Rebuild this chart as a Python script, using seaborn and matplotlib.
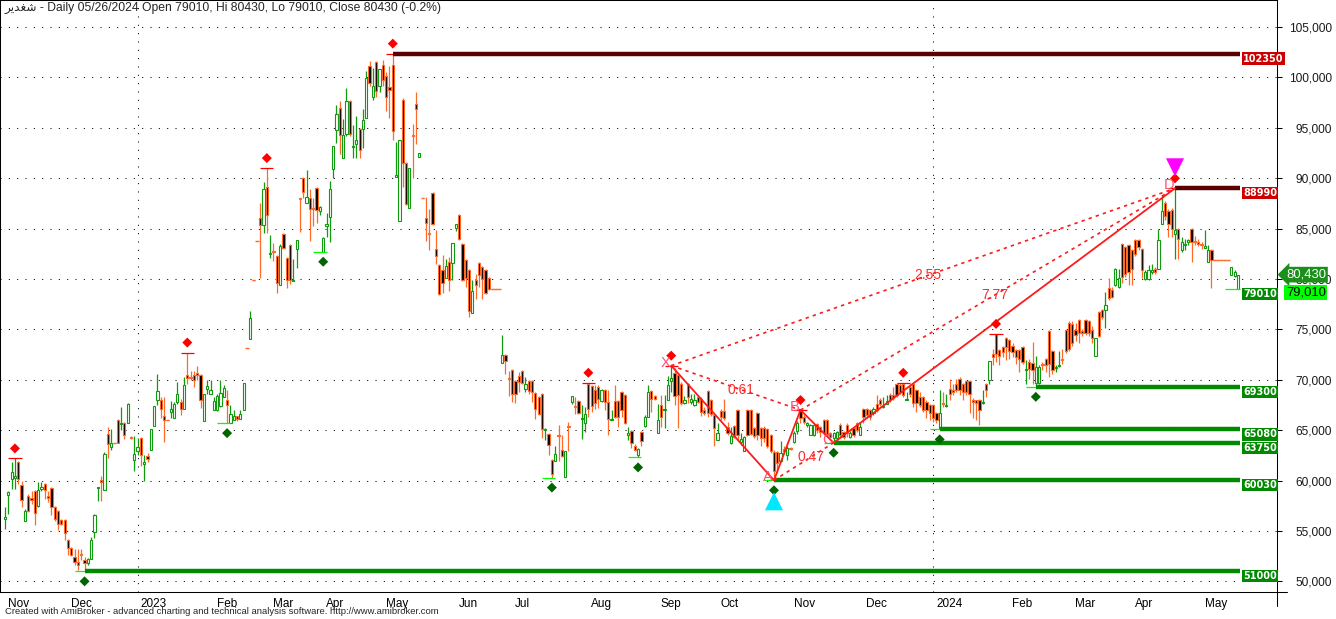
import numpy as np
import pandas as pd
import seaborn as sns
import matplotlib.pyplot as plt
from matplotlib import transforms
from matplotlib.lines import Line2D

# Daily bars, thousands of rials: (open, high, low, close)
nov22 = [(56.2, 57.4, 55.2, 56.4), (58.6, 59.0, 56.7, 58.9), (60.2, 61.8, 59.2, 60.9),
         (60.3, 62.2, 59.2, 60.5), (61.8, 61.9, 59.7, 60.2), (59.6, 60.0, 57.4, 58.1),
         (56.0, 57.2, 56.0, 57.0), (58.5, 58.7, 56.9, 57.0), (58.3, 59.0, 57.7, 58.1),
         (59.0, 59.1, 55.6, 56.8), (57.5, 59.9, 57.4, 59.1), (59.2, 59.9, 59.0, 59.4),
         (59.7, 59.8, 58.2, 59.1), (58.5, 59.0, 57.9, 58.3), (59.3, 59.4, 56.6, 57.4),
         (57.4, 57.5, 56.0, 56.2), (57.0, 57.1, 55.1, 55.7), (56.1, 56.2, 55.6, 55.7),
         (56.1, 56.2, 54.1, 54.8)]
dec22 = [(54.1, 54.2, 52.6, 53.3), (53.3, 53.4, 52.5, 52.6), (52.4, 53.2, 51.6, 51.9),
         (51.9, 53.2, 51.1, 51.6), (52.7, 53.2, 52.1, 52.6), (52.1, 52.4, 51.0, 51.8),
         (51.8, 52.3, 51.6, 52.2), (52.2, 54.4, 52.2, 54.1), (54.9, 56.7, 54.3, 56.6),
         (59.3, 59.4, 58.0, 59.4), (60.1, 60.5, 58.0, 59.9), (59.1, 62.8, 59.1, 62.6),
         (64.6, 65.3, 62.2, 63.6), (63.3, 65.1, 63.0, 63.7), (63.7, 63.7, 63.7, 63.7),
         (66.0, 66.1, 63.7, 63.7), (65.6, 67.3, 65.0, 65.7), (65.7, 65.8, 64.1, 64.5),
         (65.7, 67.7, 65.7, 67.6), (64.3, 64.4, 64.1, 64.2), (62.0, 64.4, 61.0, 62.6)]
jan23 = [(62.9, 64.2, 62.5, 63.3), (64.2, 64.3, 61.4, 62.5), (61.6, 62.5, 60.0, 61.8),
         (62.4, 62.7, 61.8, 62.1), (63.0, 65.1, 63.0, 65.1), (65.4, 67.4, 65.4, 67.4),
         (68.0, 70.6, 67.5, 68.9), (68.0, 68.3, 66.2, 67.1), (66.4, 68.3, 63.8, 66.0),
         (66.0, 66.0, 66.0, 66.0), (66.8, 67.9, 66.2, 67.1), (66.2, 67.8, 66.2, 67.6),
         (67.8, 69.8, 67.6, 68.6), (67.8, 68.1, 66.5, 67.1), (67.1, 70.3, 67.1, 69.5),
         (70.5, 72.7, 69.6, 70.2), (70.3, 70.9, 70.0, 70.2), (70.5, 70.9, 69.3, 70.0),
         (70.7, 71.4, 70.0, 70.5), (70.5, 70.6, 67.2, 68.0), (65.9, 68.6, 65.9, 68.6),
         (69.1, 70.0, 68.6, 69.4), (68.6, 70.0, 68.6, 69.0)]
feb23 = [(67.0, 68.3, 67.0, 67.9), (67.0, 68.6, 66.9, 68.4), (67.4, 70.0, 67.3, 68.7),
         (68.3, 69.5, 68.3, 69.2), (68.0, 69.0, 65.7, 67.5), (65.7, 67.5, 65.7, 66.6),
         (66.0, 67.0, 66.0, 66.4), (66.4, 66.4, 65.9, 66.1), (66.1, 67.0, 66.1, 66.6),
         (67.0, 69.7, 67.0, 69.7), (73.2, 73.2, 73.2, 73.2), (74.0, 76.8, 74.0, 76.1),
         (79.9, 79.9, 79.9, 79.9), (83.8, 83.8, 83.8, 83.8), (86.0, 87.5, 80.1, 85.4),
         (85.4, 89.6, 84.6, 88.9), (89.1, 91.0, 84.6, 86.3)]
mar23 = [(82.5, 84.4, 82.1, 82.6), (82.8, 83.6, 81.8, 82.7), (82.3, 82.4, 78.6, 79.6),
         (79.4, 83.5, 79.4, 83.3), (84.5, 84.6, 83.0, 83.1), (82.1, 82.2, 79.1, 79.9),
         (83.4, 83.5, 79.5, 79.9), (79.8, 82.0, 79.8, 79.9), (83.0, 83.9, 81.1, 83.9),
         (88.0, 88.0, 84.7, 87.9), (90.0, 90.1, 88.0, 88.6), (87.5, 90.8, 87.5, 88.1),
         (88.0, 88.9, 83.8, 86.9), (87.0, 88.0, 85.3, 86.9), (89.0, 89.1, 85.6, 86.8),
         (86.7, 87.2, 86.3, 87.1)]
apr23 = [(82.7, 84.2, 82.7, 84.1), (85.3, 86.5, 84.2, 85.5), (86.1, 89.7, 83.7, 88.9),
         (90.9, 93.2, 90.0, 93.2), (94.8, 97.3, 93.5, 96.4), (97.0, 97.7, 92.4, 94.3),
         (92.0, 95.9, 92.0, 94.3), (94.4, 98.9, 94.2, 97.7), (97.7, 97.8, 94.2, 94.4),
         (93.1, 95.3, 92.0, 93.2), (93.4, 96.2, 92.0, 93.8), (94.9, 95.0, 92.0, 92.8),
         (94.9, 96.9, 93.0, 95.8), (96.0, 100.6, 96.0, 99.9), (101.1, 101.6, 99.1, 99.4),
         (98.0, 100.9, 97.8, 99.1), (101.5, 101.6, 98.0, 98.6), (99.1, 100.8, 98.5, 100.8)]
may23 = [(101.2, 101.7, 99.1, 99.7), (100.1, 100.5, 96.7, 98.0), (99.0, 101.1, 96.0, 98.7),
         (101.2, 102.35, 93.8, 94.7), (90.1, 93.6, 90.1, 90.3), (85.7, 93.8, 85.7, 93.8),
         (97.8, 97.9, 89.1, 91.5), (91.5, 91.6, 87.3, 87.4), (87.0, 91.0, 87.0, 91.0),
         (94.3, 95.4, 90.0, 94.2), (97.4, 98.5, 93.4, 96.9), (92.1, 92.5, 92.1, 92.5),
         (88.0, 88.0, 88.0, 88.0), (86.0, 88.1, 83.8, 85.6), (84.6, 86.9, 82.9, 84.5),
         (88.5, 88.6, 85.4, 85.5), (83.0, 84.9, 81.5, 82.3), (81.4, 81.5, 78.4, 78.5),
         (80.9, 82.4, 78.6, 79.6), (80.1, 82.0, 80.1, 81.3), (81.7, 82.2, 78.8, 79.9),
         (81.6, 83.6, 79.9, 83.6)]
jun23 = [(85.1, 85.5, 84.8, 85.5), (86.3, 86.4, 83.9, 84.0), (83.5, 83.6, 79.8, 79.9),
         (81.9, 82.0, 79.2, 80.1), (80.9, 81.0, 76.2, 76.8), (76.6, 79.9, 76.6, 78.8),
         (79.9, 80.5, 78.0, 79.4), (81.6, 81.7, 79.2, 80.4), (81.2, 81.3, 78.0, 80.0),
         (80.9, 81.0, 78.5, 78.6), (80.1, 80.2, 78.9, 79.0), (79.0, 79.0, 79.0, 79.0),
         (79.0, 79.0, 79.0, 79.0), (79.0, 79.0, 79.0, 79.0), (71.7, 74.4, 71.7, 72.5),
         (72.5, 72.6, 70.6, 71.9), (70.2, 70.9, 68.4, 70.1)]
jul23 = [(71.0, 71.1, 67.8, 68.6), (69.9, 70.0, 67.7, 68.6), (70.4, 70.8, 68.8, 69.8),
         (70.9, 71.0, 69.6, 69.7), (69.1, 70.3, 68.8, 69.6), (69.9, 70.0, 68.6, 68.9),
         (69.9, 70.0, 67.8, 68.8), (68.7, 68.8, 66.1, 67.1), (68.3, 68.4, 66.5, 66.6),
         (68.6, 68.7, 64.2, 65.1), (65.0, 65.2, 64.0, 65.1), (64.6, 64.7, 62.5, 63.5),
         (62.0, 62.1, 60.3, 60.7), (61.9, 63.4, 61.9, 62.6), (64.5, 65.5, 61.9, 64.4),
         (63.0, 64.5, 62.3, 62.4), (60.4, 62.9, 60.4, 62.9), (65.4, 65.8, 62.9, 65.3),
         (67.8, 68.4, 67.6, 68.4), (67.4, 68.3, 66.6, 67.3), (67.9, 68.0, 66.6, 66.7),
         (66.1, 67.5, 64.1, 66.2), (65.7, 67.3, 64.8, 66.6)]
aug23 = [(69.6, 69.7, 66.3, 67.1), (69.4, 69.5, 66.8, 67.4), (69.0, 69.5, 67.1, 67.7),
         (69.3, 69.5, 67.2, 68.1), (67.9, 69.1, 67.8, 69.0), (69.0, 69.1, 67.0, 67.8),
         (67.8, 69.0, 64.5, 66.1), (66.0, 67.0, 66.0, 66.1), (67.9, 69.5, 66.2, 66.3),
         (67.9, 68.0, 65.3, 66.3), (68.8, 68.9, 66.3, 67.0), (68.5, 68.6, 65.6, 65.7),
         (64.5, 65.3, 64.0, 64.7), (64.9, 65.0, 63.2, 63.7), (63.4, 63.6, 62.9, 63.0),
         (62.5, 63.2, 62.3, 63.1), (64.8, 64.9, 63.4, 63.9), (65.4, 66.5, 65.3, 66.3),
         (66.3, 69.5, 66.3, 68.8), (68.9, 69.0, 66.8, 68.1), (68.4, 68.5, 68.0, 68.1)]
sep23 = [(64.7, 67.6, 64.7, 66.0), (67.5, 68.5, 65.3, 66.3), (67.0, 68.5, 65.2, 67.1),
         (68.0, 70.4, 68.0, 69.5), (69.9, 71.4, 68.8, 70.2), (70.7, 71.2, 67.5, 68.4),
         (70.5, 70.6, 65.2, 68.5), (69.6, 69.8, 67.5, 67.7), (67.7, 68.4, 67.6, 68.0),
         (69.6, 69.7, 67.7, 68.3), (67.8, 68.6, 67.6, 68.1), (67.5, 68.6, 67.4, 68.0),
         (68.3, 68.5, 67.7, 67.8), (68.1, 68.3, 66.4, 66.8), (67.0, 67.3, 66.5, 66.7),
         (68.9, 69.0, 66.3, 66.7), (68.0, 68.1, 66.4, 66.6), (66.5, 66.6, 63.4, 65.2)]
oct23 = [(64.0, 65.7, 64.0, 64.7), (66.9, 67.1, 66.0, 66.3), (66.9, 68.1, 66.0, 66.2),
         (65.3, 65.8, 64.5, 64.7), (63.7, 65.3, 63.6, 64.4), (65.4, 65.5, 64.2, 64.3),
         (67.0, 67.1, 63.9, 64.5), (63.8, 64.7, 63.5, 64.1), (62.9, 64.4, 62.9, 64.3),
         (67.0, 67.1, 64.4, 64.5), (67.0, 67.1, 64.5, 64.6), (65.2, 65.3, 64.2, 64.4),
         (66.7, 66.8, 64.0, 64.5), (65.2, 65.3, 63.4, 64.2), (65.2, 65.4, 63.8, 64.2),
         (65.1, 65.2, 63.2, 63.4), (64.5, 64.6, 62.7, 62.9), (62.8, 63.0, 60.03, 61.0),
         (62.8, 62.9, 60.8, 61.7), (61.9, 63.9, 61.8, 62.7), (63.1, 63.4, 62.6, 62.9),
         (62.5, 63.4, 62.0, 63.2)]
nov23 = [(63.2, 63.3, 63.0, 63.1), (63.8, 64.9, 63.7, 64.7), (64.9, 65.9, 64.6, 65.7),
         (66.9, 67.0, 65.7, 66.2), (66.3, 66.5, 65.6, 65.8), (65.5, 65.8, 65.3, 65.7),
         (64.5, 65.6, 64.5, 65.5), (64.5, 65.6, 64.4, 65.5), (65.6, 65.7, 64.7, 65.0),
         (65.3, 65.4, 64.3, 64.8), (66.0, 66.1, 64.5, 64.7), (66.0, 66.1, 64.4, 64.5),
         (64.7, 64.8, 64.2, 64.3), (64.2, 64.8, 63.75, 64.7), (64.2, 64.9, 64.0, 64.8),
         (65.5, 65.7, 64.2, 64.5), (64.8, 64.9, 64.1, 64.3), (65.5, 65.7, 64.3, 64.7),
         (64.3, 64.9, 64.2, 64.7), (65.2, 65.3, 64.3, 64.5), (65.7, 65.8, 64.8, 65.0),
         (64.5, 65.8, 64.5, 65.3)]
dec23 = [(67.1, 67.2, 65.7, 66.3), (67.1, 67.2, 66.2, 66.5), (67.0, 67.1, 66.0, 66.3),
         (66.7, 67.3, 66.5, 67.1), (67.6, 68.5, 66.8, 67.0), (68.0, 68.2, 67.4, 67.6),
         (67.3, 68.3, 67.2, 67.4), (67.6, 68.5, 67.6, 67.9), (68.5, 68.7, 67.8, 68.0),
         (68.5, 69.3, 68.0, 68.2), (69.6, 69.7, 68.3, 68.5), (69.5, 69.7, 68.6, 68.8),
         (69.6, 69.7, 68.3, 68.5), (68.0, 68.8, 68.0, 68.1), (69.3, 69.6, 68.3, 68.6),
         (69.6, 69.7, 67.3, 67.7), (69.0, 69.1, 66.8, 67.7), (68.3, 68.8, 67.3, 67.5),
         (68.3, 68.4, 66.8, 67.0), (67.8, 68.0, 66.2, 67.0), (67.5, 67.6, 66.0, 66.7)]
jan24 = [(67.5, 67.6, 65.8, 66.2), (66.7, 66.8, 65.7, 66.0), (65.1, 69.0, 65.08, 66.7),
         (67.7, 68.8, 67.3, 67.6), (67.4, 68.6, 67.3, 67.5), (69.1, 70.1, 68.0, 68.6),
         (69.0, 69.6, 68.5, 68.8), (69.6, 70.1, 68.8, 69.0), (70.1, 70.3, 68.5, 69.0),
         (69.6, 69.7, 68.0, 68.8), (69.9, 70.0, 68.5, 68.8), (69.9, 70.0, 66.7, 68.6),
         (68.0, 68.2, 66.2, 67.8), (68.0, 68.0, 66.0, 67.7), (68.0, 68.1, 65.5, 67.0),
         (67.7, 69.0, 67.6, 67.8), (69.6, 69.7, 68.3, 69.0), (70.0, 71.9, 69.6, 71.9),
         (72.6, 73.1, 71.5, 72.3), (74.55, 74.55, 71.8, 72.6), (73.0, 73.1, 71.5, 72.4),
         (73.3, 73.4, 72.3, 72.8), (74.1, 74.2, 72.0, 73.3)]
feb24 = [(73.9, 74.0, 72.1, 72.9), (73.4, 73.6, 72.3, 72.8), (73.0, 73.1, 71.6, 72.3),
         (73.0, 73.1, 70.8, 72.1), (73.3, 73.4, 71.6, 71.8), (71.0, 72.0, 69.6, 71.1),
         (71.8, 72.1, 70.1, 71.1), (71.7, 73.7, 69.6, 71.0), (69.7, 72.4, 69.3, 71.3),
         (69.7, 71.5, 69.6, 71.3), (71.6, 71.8, 71.0, 71.5), (72.1, 72.2, 70.8, 71.5),
         (74.8, 74.9, 70.3, 71.6), (72.9, 73.0, 70.6, 71.0), (71.2, 71.5, 70.8, 71.3),
         (71.4, 72.9, 71.3, 71.5), (72.1, 73.1, 71.6, 72.0), (74.9, 75.0, 72.7, 72.9),
         (75.6, 75.8, 72.9, 73.1)]
mar24 = [(75.5, 75.8, 73.4, 73.6), (74.9, 75.6, 73.8, 74.4), (75.9, 76.0, 73.6, 74.6),
         (74.8, 75.0, 74.3, 74.6), (75.9, 76.0, 74.4, 74.6), (75.8, 75.9, 74.3, 74.6),
         (74.9, 75.3, 73.6, 74.1), (72.4, 74.1, 72.4, 74.1), (76.7, 76.8, 74.2, 74.3),
         (76.9, 77.0, 76.0, 76.2), (76.9, 78.7, 75.1, 77.4), (79.1, 80.1, 77.9, 78.1),
         (78.9, 79.2, 78.1, 78.2), (79.4, 81.1, 79.3, 81.0), (79.2, 81.0, 79.1, 80.1),
         (83.5, 83.6, 79.6, 80.2), (83.2, 83.3, 80.2, 80.5), (83.4, 83.5, 79.4, 80.7)]
apr24 = [(82.9, 83.0, 79.4, 81.0), (83.9, 84.0, 82.3, 82.5), (83.9, 84.0, 82.9, 83.2),
         (83.0, 83.1, 80.1, 80.9), (80.0, 80.9, 79.9, 80.7), (80.0, 81.4, 79.9, 80.9),
         (80.7, 81.5, 80.5, 80.9), (81.0, 81.2, 80.5, 80.7), (81.0, 85.0, 81.0, 83.9),
         (85.5, 88.3, 85.5, 86.7), (87.5, 87.7, 85.8, 86.2), (86.7, 86.9, 84.2, 85.5),
         (86.8, 87.0, 84.2, 85.0), (84.5, 88.99, 82.0, 84.9), (85.0, 85.1, 82.0, 84.0),
         (82.9, 84.2, 82.7, 83.7), (83.4, 84.0, 82.9, 83.5), (83.7, 84.0, 83.4, 83.9),
         (85.0, 85.1, 81.7, 83.7), (83.8, 84.3, 83.4, 83.7), (83.7, 84.0, 83.3, 83.5)]
may24 = [(83.5, 83.7, 83.0, 83.4), (83.1, 84.9, 83.1, 83.3), (81.7, 83.4, 81.7, 82.9),
         (82.9, 83.0, 79.1, 81.9), (81.9, 81.9, 81.9, 81.9), (81.9, 81.9, 81.9, 81.9),
         (81.9, 81.9, 81.9, 81.9), (81.9, 81.9, 81.9, 81.9), (81.9, 81.9, 81.9, 81.9),
         (80.4, 81.2, 80.4, 81.2), (80.3, 80.9, 80.2, 80.7), (79.01, 80.43, 79.01, 80.43)]

month_keys = ['2022-11', '2022-12', '2023-01', '2023-02', '2023-03', '2023-04', '2023-05',
              '2023-06', '2023-07', '2023-08', '2023-09', '2023-10', '2023-11', '2023-12',
              '2024-01', '2024-02', '2024-03', '2024-04', '2024-05']
month_labels = ['Nov', 'Dec', '2023', 'Feb', 'Mar', 'Apr', 'May', 'Jun', 'Jul', 'Aug', 'Sep',
                'Oct', 'Nov', 'Dec', '2024', 'Feb', 'Mar', 'Apr', 'May']
month_bars = [nov22, dec22, jan23, feb23, mar23, apr23, may23, jun23, jul23, aug23, sep23,
              oct23, nov23, dec23, jan24, feb24, mar24, apr24, may24]

# swing points: (month, bar number inside the month)
pivot_highs = [('2022-11', 3), ('2023-01', 15), ('2023-02', 16), ('2023-05', 3), ('2023-08', 0),
               ('2023-09', 4), ('2023-11', 3), ('2023-12', 12), ('2024-01', 19), ('2024-04', 13)]
pivot_lows = [('2022-12', 5), ('2023-02', 4), ('2023-04', 0), ('2023-07', 12), ('2023-08', 15),
              ('2023-10', 17), ('2023-11', 13), ('2024-01', 2), ('2024-02', 8)]
xabcd = [('2023-09', 4), ('2023-10', 17), ('2023-11', 3), ('2023-11', 13), ('2024-04', 13)]

# symbol name شغدیر, pre-shaped into visual order (matplotlib has no arabic shaping)
symbol = '\ufeae\ufef3\ufeaa\ufed0\ufeb7'
title = symbol + ' - Daily 05/26/2024 Open 79010, Hi 80430, Lo 79010, Close 80430 (-0.2%)'
footer = 'Created with AmiBroker - advanced charting and technical analysis software. http://www.amibroker.com'

# build table
rows = []
for key, bars in zip(month_keys, month_bars):
    for i, b in enumerate(bars):
        rows.append((key, i) + tuple(v * 1000 for v in b))
df = pd.DataFrame(rows, columns=['month', 'pos', 'open', 'high', 'low', 'close'])
df['x'] = np.arange(len(df))


def bar_of(key, pos):
    return df.index[(df.month == key) & (df.pos == pos)][0]


sns.set_style('white')
plt.rcParams['font.family'] = ['Liberation Sans', 'DejaVu Sans']

W, H = 1336, 619
fig = plt.figure(figsize=(W / 100, H / 100), dpi=100)
ax = fig.add_axes([0, 27 / H, 1277 / W, 592 / H])
n = len(df)
sp = 1233 / (n - 1)
ax.set_xlim(-5 / sp, 1272 / sp)
ymin, ymax = 48950, 107670
ax.set_ylim(ymin, ymax)
py = (ymax - ymin) / 592  # price per pixel

dots = (0, (1, 7))
for v in range(50000, 105001, 5000):
    ax.axhline(v, color='black', lw=0.75, ls=dots, zorder=0)
starts = [int(np.where(df.month == k)[0][0]) for k in month_keys]
for s, lab in zip(starts, month_labels):
    if lab.startswith('20'):
        ax.axvline(s, color='black', lw=0.75, ls=dots, zorder=0)

# candles
up = df.close > df.open
edge = np.where(up, '#109a10', '#ff6a28')
face = np.where(up, 'white', 'black')
ax.vlines(df.x, df.low, df.high, colors=edge, lw=0.9, zorder=2)
body = (df.close - df.open).abs()
ax.bar(df.x, body, bottom=np.minimum(df.open, df.close), width=0.68,
       color=face, edgecolor=edge, linewidth=0.8, zorder=3)
flat = body == 0
ax.hlines(df.close[flat], df.x[flat] - 0.5, df.x[flat] + 0.5, colors=edge[flat], lw=1.0, zorder=3)

last = n - 1
tag_x = 1243 / 1277
ytr = ax.get_yaxis_transform()


def level_tag(v, fc):
    ax.text(tag_x, v, f'{v:.0f}', transform=ytr, ha='left', va='top', color='white',
            fontsize=7, fontweight='bold', family='DejaVu Sans', clip_on=False, zorder=12,
            bbox=dict(boxstyle='square,pad=0.12', fc=fc, ec='none'))


hx, hy, lx, ly = [], [], [], []
for key, pos in pivot_highs:
    i = bar_of(key, pos)
    v = df.high[i]
    ax.hlines(v, i - 2, i + 2, color='#ff0000', lw=0.9, zorder=4)
    hx.append(i)
    hy.append(v + 10 * py)
    if df.high[i + 1:].max() < v:
        ax.hlines(v, i, last + 0.5, color='#5a0000', lw=3.2, zorder=4)
        level_tag(v, '#cc0000')
for key, pos in pivot_lows:
    i = bar_of(key, pos)
    v = df.low[i]
    ax.hlines(v, i - 3, i + 1, color='#00ff00', lw=0.9, zorder=4)
    lx.append(i)
    ly.append(v - 10 * py)
    if df.low[i + 1:].min() > v:
        ax.hlines(v, i, last + 0.5, color='#008a00', lw=3.2, zorder=4)
        level_tag(v, '#008a00')
ax.hlines(df.low[last], last - 4, last + 0.5, color='#00ff00', lw=0.9, zorder=4)
level_tag(df.low[last], '#008a00')

sns.scatterplot(x=hx, y=hy, marker='D', s=26, color='#ff0000', edgecolor='none', ax=ax, zorder=6, legend=False)
sns.scatterplot(x=lx, y=ly, marker='D', s=26, color='#006400', edgecolor='none', ax=ax, zorder=6, legend=False)

# XABCD pattern
pts = []
for k, (key, pos) in enumerate(xabcd):
    i = bar_of(key, pos)
    pts.append((i, df.high[i] if k % 2 == 0 else df.low[i]))
(X, A, B, C, D) = pts
ax.plot([p[0] for p in pts], [p[1] for p in pts], color='#ff1a1a', lw=1.3, zorder=5)
ratios = [(X, B, (B[1] - A[1]) / (X[1] - A[1]), 0.54),
          (A, C, (B[1] - C[1]) / (B[1] - A[1]), 0.62),
          (B, D, (D[1] - C[1]) / (B[1] - C[1]), 0.52),
          (X, D, (D[1] - A[1]) / (X[1] - A[1]), 0.51)]
for p, q, r, t in ratios:
    ax.plot([p[0], q[0]], [p[1], q[1]], color='#ff1a1a', lw=1.2, ls=(0, (2, 2.5)), zorder=5)
    ax.text(p[0] + t * (q[0] - p[0]), p[1] + t * (q[1] - p[1]), f'{r:.2f}', color='#ff2a2a',
            fontsize=10, ha='center', va='center', zorder=7)
for name, (i, v) in zip('XABCD', pts):
    ax.annotate(name, (i, v), xytext=(-6, 3), textcoords='offset pixels', ha='center',
                va='center', color='#ff4f78', fontsize=10.5, zorder=7)
sns.scatterplot(x=[D[0]], y=[D[1] + 21 * py], marker='v', s=170, color='#ff00ff',
                edgecolor='none', ax=ax, zorder=8, legend=False)
sns.scatterplot(x=[A[0]], y=[A[1] - 21 * py], marker='^', s=170, color='#00e8ff',
                edgecolor='none', ax=ax, zorder=8, legend=False)

# axes
for s in ax.spines.values():
    s.set_color('black')
    s.set_linewidth(0.75)
    s.set_visible(True)
ax.yaxis.tick_right()
ax.set_yticks(range(50000, 105001, 5000))
ax.set_yticklabels([f'{v:,}' for v in range(50000, 105001, 5000)])
ax.tick_params(axis='y', direction='out', length=3.6, width=0.75, labelsize=8.6,
               pad=36, colors='black', labelcolor='#1a1a1a')
for lab in ax.get_yticklabels():
    lab.set_horizontalalignment('right')
ax.set_xticks(starts)
ax.set_xticklabels(month_labels)
ax.tick_params(axis='x', direction='out', length=3.6, width=0.75, labelsize=8.5, pad=0.5,
               colors='black')
shift = transforms.ScaledTranslation(3 / 100, 0, fig.dpi_scale_trans)
for lab in ax.get_xticklabels():
    lab.set_horizontalalignment('left')
    lab.set_transform(lab.get_transform() + shift)
ax.set_xlabel('')
ax.set_ylabel('')

# last price tags
c_last, l_last = df.close[last], df.low[last]
ax.annotate(f'{c_last:,.0f}', (1.0, c_last), xycoords=ytr, xytext=(9, 0),
            textcoords='offset pixels', ha='left', va='center', color='white', fontsize=9.4,
            annotation_clip=False, zorder=13,
            bbox=dict(boxstyle='larrow,pad=0.14', fc='#1a8f1a', ec='none'))
ax.annotate(f'{l_last:,.0f}', (1.0, c_last), xycoords=ytr, xytext=(9, -18),
            textcoords='offset pixels', ha='left', va='center', color='black', fontsize=9.4,
            annotation_clip=False, zorder=13,
            bbox=dict(boxstyle='square,pad=0.12', fc='#00ff00', ec='none'))

fig.add_artist(Line2D([1277 / W, 1277 / W], [(H - 606) / H, 27 / H], color='black', lw=0.75))
fig.add_artist(Line2D([1277 / W, 1287 / W], [27 / H, 27 / H], color='black', lw=0.75))

fig.text(5 / W, 1 - 8 / H, title, fontsize=8.7, ha='left', va='center')
fig.text(5 / W, 1 - 612 / H, footer, fontsize=6.8, ha='left', va='center')

fig.savefig('out.png', dpi=100)
